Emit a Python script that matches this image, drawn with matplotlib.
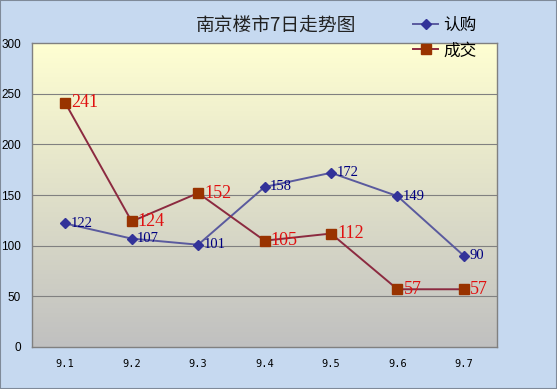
import numpy as np
import matplotlib
matplotlib.use('Agg')
import matplotlib.pyplot as plt
from matplotlib.colors import LinearSegmentedColormap

plt.rcParams['font.family'] = ['Noto Sans CJK SC', 'DejaVu Sans']

dates = ['9.1', '9.2', '9.3', '9.4', '9.5', '9.6', '9.7']
subscribed = [122, 107, 101, 158, 172, 149, 90]
deals = [241, 124, 152, 105, 112, 57, 57]
y_ticks = [0, 50, 100, 150, 200, 250, 300]

fig = plt.figure(figsize=(5.57, 3.89), dpi=100)
fig.patch.set_facecolor('#c6d9f0')
fig.patches.append(plt.Rectangle((0, 0), 1, 1, transform=fig.transFigure,
                                 fill=False, edgecolor='#7f8a99', linewidth=1.5))

ax = fig.add_axes([0.0575, 0.108, 0.835, 0.781])
x = np.arange(len(dates))

# gradient background (light yellow -> gray)
cmap = LinearSegmentedColormap.from_list('bg', ['#c0c0c0', '#ffffd2'])
grad = np.linspace(0, 1, 256).reshape(-1, 1)
ax.imshow(grad, extent=[-0.5, 6.5, 0, 300], origin='lower', cmap=cmap,
          aspect='auto', zorder=0)

for t in y_ticks[1:-1]:
    ax.axhline(t, color='#808080', linewidth=0.8, zorder=1)

ax.plot(x, subscribed, color='#5a5a9e', linewidth=1.4, marker='D',
        markersize=5, markerfacecolor='#333399', markeredgecolor='#333399',
        label='认购', zorder=3)
ax.plot(x, deals, color='#8c2a40', linewidth=1.4, marker='s',
        markersize=7, markerfacecolor='#993300', markeredgecolor='#993300',
        label='成交', zorder=3)

for xi, v in zip(x, subscribed):
    ax.text(xi + 0.08, v, str(v), color='#000080', fontsize=10.5,
            family=['Liberation Serif'], va='center', ha='left', zorder=4)
for xi, v in zip(x, deals):
    ax.text(xi + 0.09, v, str(v), color='#e01010', fontsize=13,
            family=['Liberation Serif'], va='center', ha='left', zorder=4)

ax.set_xlim(-0.5, 6.5)
ax.set_ylim(0, 300)
ax.set_xticks(x)
ax.set_xticklabels(dates, family=['DejaVu Sans Mono'], fontsize=7.5)
ax.set_yticks(y_ticks)
ax.set_yticklabels([str(t) for t in y_ticks], fontsize=8.5,
                   family=['Liberation Sans'])
ax.tick_params(length=0)
ax.tick_params(axis='x', pad=9)
ax.tick_params(axis='y', pad=8)
for s in ax.spines.values():
    s.set_color('#808080')
    s.set_linewidth(1)

fig.text(0.495, 0.935, '南京楼市7日走势图', fontsize=13.5, color='#222222',
         ha='center', va='center')

fig.legend(loc='upper left', bbox_to_anchor=(0.715, 0.995), frameon=False,
           fontsize=12, handlelength=1.5, labelspacing=0.5, handletextpad=0.3)

fig.savefig('out.png', dpi=100, facecolor=fig.get_facecolor())
